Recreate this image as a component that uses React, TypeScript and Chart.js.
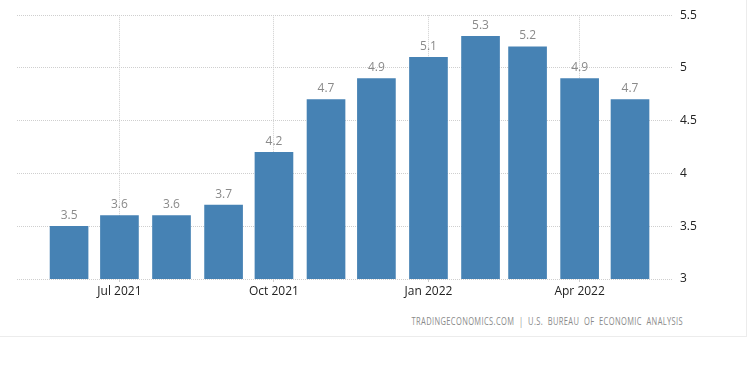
import React, { useEffect, useRef } from "react";
import { Chart, registerables } from "chart.js";

Chart.register(...registerables);

const months = ["2021-06", "2021-07", "2021-08", "2021-09", "2021-10", "2021-11", "2021-12", "2022-01", "2022-02", "2022-03", "2022-04", "2022-05"];
const values = [3.5, 3.6, 3.6, 3.7, 4.2, 4.7, 4.9, 5.1, 5.3, 5.2, 4.9, 4.7];
const tickMonths = ["2021-07", "2021-10", "2022-01", "2022-04"];
const tickLabels = ["Jul 2021", "Oct 2021", "Jan 2022", "Apr 2022"];
const xRange = ["2021-05-01", "2022-05-26"];
const yTicks = [3, 3.5, 4, 4.5, 5, 5.5];
const sourceText = "TRADINGECONOMICS.COM  |  U.S.  BUREAU  OF  ECONOMIC  ANALYSIS";

const toDay = (s: string) => {
  const p = s.split("-").map(Number);
  return Date.UTC(p[0], p[1] - 1, p[2] || 1) / 86400000;
};

const FONT = "'Open Sans', 'DejaVu Sans', sans-serif";

const valueLabels = {
  id: "valueLabels",
  afterDatasetsDraw(chart: any) {
    const ctx = chart.ctx;
    const meta = chart.getDatasetMeta(0);
    ctx.save();
    ctx.font = `12px ${FONT}`;
    ctx.fillStyle = "#8a8a8a";
    ctx.textAlign = "center";
    ctx.textBaseline = "bottom";
    meta.data.forEach((el: any, i: number) => {
      ctx.fillText(String(values[i]), el.x, el.y - 5);
    });
    ctx.restore();
  },
};

export default function App() {
  const ref = useRef<HTMLCanvasElement>(null);
  useEffect(() => {
    document.body.style.margin = "0";
    const tickDays = tickMonths.map(toDay);
    const chart = new Chart(ref.current!, {
      type: "bar",
      data: {
        datasets: [
          {
            data: months.map((m, i) => ({ x: toDay(m), y: values[i] })),
            backgroundColor: "#4682b4",
            barThickness: 38,
          },
        ],
      },
      options: {
        animation: false,
        responsive: false,
        maintainAspectRatio: false,
        layout: { padding: { left: 17, top: 15, right: 0, bottom: 0 } },
        plugins: { legend: { display: false }, tooltip: { enabled: false } },
        scales: {
          x: {
            type: "linear",
            offset: false,
            min: toDay(xRange[0]),
            max: toDay(xRange[1]),
            afterBuildTicks: (scale: any) => {
              scale.ticks = tickDays.map((v) => ({ value: v }));
            },
            afterFit: (scale: any) => {
              scale.height = 21;
            },
            ticks: {
              autoSkip: false,
              maxRotation: 0,
              padding: 2,
              color: "#222",
              font: { family: FONT, size: 12 },
              callback: (v: any) => {
                const idx = tickDays.indexOf(Number(v));
                return idx >= 0 ? tickLabels[idx] : "";
              },
            },
            grid: { offset: false, color: "#cfcfcf", tickLength: 3, tickColor: "#cfcfcf" },
            border: { display: false, dash: [1, 1] },
          },
          y: {
            position: "right",
            min: 3,
            max: 5.5,
            afterBuildTicks: (scale: any) => {
              scale.ticks = yTicks.map((v) => ({ value: v }));
            },
            afterFit: (scale: any) => {
              scale.width = 75;
            },
            ticks: {
              padding: 8,
              color: "#222",
              font: { family: FONT, size: 12 },
              callback: (v: any) => String(v),
            },
            grid: { color: "#cfcfcf", drawTicks: false },
            border: { display: false, dash: [1, 1] },
          },
        },
      },
      plugins: [valueLabels],
    });
    return () => chart.destroy();
  }, []);

  return (
    <div
      style={{
        position: "absolute",
        left: 0,
        top: 0,
        width: 746,
        height: 336,
        borderRight: "1px solid #ececec",
        borderBottom: "1px solid #ececec",
        background: "#fff",
      }}
    >
      <canvas ref={ref} width={747} height={300} style={{ display: "block" }} />
      <div
        style={{
          position: "absolute",
          right: 63,
          top: 314,
          fontFamily: "'Open Sans', sans-serif",
          fontSize: 10,
          letterSpacing: 0.5,
          color: "#8a8a8a",
          whiteSpace: "pre",
          transform: "scaleX(0.75)",
          transformOrigin: "right center",
        }}
      >
        {sourceText}
      </div>
    </div>
  );
}
